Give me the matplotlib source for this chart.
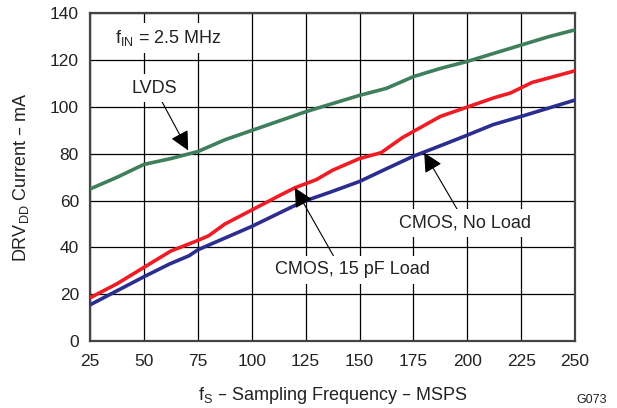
import matplotlib
matplotlib.use("Agg")
import matplotlib.pyplot as plt

plt.rcParams["font.family"] = ["Liberation Sans", "DejaVu Sans"]

# Sampling frequency (MSPS) and DRVDD current (mA)
lvds_fs = [25, 37.5, 50, 62.5, 75, 87.5, 100, 112.5, 125, 137.5, 150, 162.5, 175, 187.5, 200, 212.5, 225, 237.5, 250]
lvds_ma = [65, 70, 75.5, 78, 81, 86, 90, 94, 98, 101.5, 105, 108, 113, 116.5, 119.5, 123, 126.5, 130, 133]

cmos15_fs = [25, 37.5, 50, 62.5, 75, 80, 87.5, 100, 112.5, 120, 130, 137.5, 150, 160, 170, 187.5, 200, 212.5, 220, 230, 250]
cmos15_ma = [18.5, 24.5, 31.5, 38.5, 43, 45, 50, 56, 62, 65.5, 69, 73, 78, 80.5, 87, 96, 100, 104, 106, 110.5, 115.5]

cmosnl_fs = [25, 50, 62, 71, 75, 100, 119, 125, 136, 150, 161, 175, 189, 200, 212, 225, 250]
cmosnl_ma = [15.5, 27.5, 33, 36.5, 39, 49, 57.5, 60, 63.5, 68.2, 73, 79, 84, 88, 92.5, 96, 103]

TXT = "#222222"

fig = plt.figure(figsize=(6.17, 4.08), dpi=100)
ax = fig.add_axes([0.146, 0.164, 0.786, 0.803])

ax.plot(lvds_fs, lvds_ma, color="#3f7f5d", lw=2.6, solid_capstyle="butt", zorder=3)
ax.plot(cmos15_fs, cmos15_ma, color="#ee1c25", lw=2.6, solid_capstyle="butt", zorder=3)
ax.plot(cmosnl_fs, cmosnl_ma, color="#2b2d8f", lw=2.6, solid_capstyle="butt", zorder=3)

ax.set_xlim(25, 250)
ax.set_ylim(0, 140)
ax.set_xticks(range(25, 251, 25))
ax.set_yticks(range(0, 141, 20))
ax.grid(True, color="black", lw=0.9, zorder=1)
ax.tick_params(length=0, labelsize=12.5, colors=TXT)
ax.tick_params(axis="x", pad=9)
ax.tick_params(axis="y", pad=8)
for s in ax.spines.values():
    s.set_color("#444444")
    s.set_linewidth(1.6)

ax.set_xlabel("f$_\\mathregular{S}$ – Sampling Frequency – MSPS", fontsize=13, color=TXT)
ax.set_ylabel("DRV$_\\mathregular{DD}$ Current – mA", fontsize=13, color=TXT)
ax.xaxis.set_label_coords(0.5, -0.135)
ax.yaxis.set_label_coords(-0.142, 0.5)
ax.xaxis.label.set_va("top")
ax.yaxis.label.set_va("center")

box = dict(boxstyle="square,pad=0.3", fc="white", ec="none")
arrow = dict(arrowstyle="-|>,head_length=0.9,head_width=0.45", color="black", lw=0.8, shrinkA=0, shrinkB=0)

ax.text(36.5, 129.5, "f$_\\mathregular{IN}$ = 2.5 MHz", fontsize=13, va="center", ha="left",
        bbox=box, zorder=4, color=TXT)
ax.annotate("LVDS", xy=(70.5, 81.5), xytext=(55, 108), fontsize=13, ha="center", va="center",
            bbox=box, arrowprops=arrow, zorder=4, color=TXT)
ax.annotate("CMOS, 15 pF Load", xy=(120, 65.5), xytext=(146.5, 30.5), fontsize=13, ha="center", va="center",
            bbox=box, arrowprops=dict(arrow, relpos=(0.4, 1.0)), zorder=4, color=TXT)
ax.annotate("CMOS, No Load", xy=(180, 80.5), xytext=(199, 50.5), fontsize=13, ha="center", va="center",
            bbox=box, arrowprops=arrow, zorder=4, color=TXT)

fig.text(0.984, 0.005, "G073", fontsize=9, ha="right", va="bottom", color=TXT)

fig.savefig("out.png", dpi=100)
